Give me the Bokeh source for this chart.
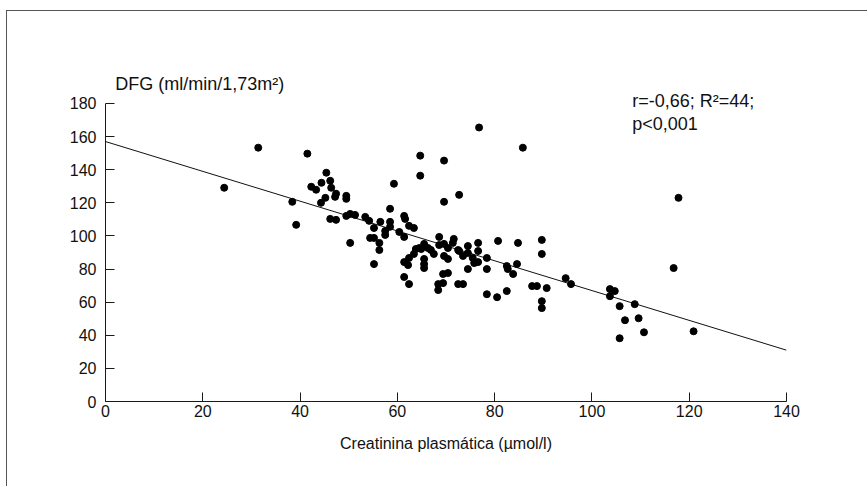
from bokeh.plotting import figure
from bokeh.models import Range1d, Label, FixedTicker
from bokeh.embed import file_html
from bokeh.resources import INLINE

# Data: plasma creatinine (µmol/l) vs GFR (ml/min/1.73m2)
creatinina = [
    24.4, 31.4, 41.5, 38.4, 39.2, 45.4, 42.3, 43.3, 44.4, 46.2, 46.4, 47.4, 47.2,
    44.3, 45.2, 46.2, 47.4, 49.5, 49.5, 49.5, 50.3, 51.3, 50.3,
    53.4, 54.2, 55.2, 56.5, 58.5, 58.5, 57.5, 57.5, 54.4, 55.2, 56.3, 56.3, 55.2,
    61.4, 61.6, 62.4, 63.4, 60.4, 61.4, 58.5, 59.3, 64.7, 64.7, 69.6, 69.6, 72.7,
    76.8, 85.8, 68.6, 71.6, 68.6, 69.6, 70.4, 71.4, 72.5, 74.5, 74.5, 76.6, 76.6,
    80.7, 84.8, 89.7, 89.7, 65.5, 64.5, 63.8, 64.9, 66.3, 66.9, 67.5, 63.4, 62.4,
    61.4, 62.2, 65.5, 65.5, 65.5, 69.6, 70.4, 72.7, 73.5, 75.5, 75.8, 76.6, 74.5,
    78.4, 78.4, 82.5, 82.7, 83.8, 84.6, 61.4, 62.4, 68.4, 68.4, 69.4, 70.4, 69.4,
    72.5, 73.5, 78.4, 80.5, 82.5, 87.7, 88.7, 90.7, 89.7, 89.7, 94.6, 95.7,
    103.7, 104.7, 103.7, 108.8, 105.7, 109.6, 106.8, 110.7, 105.7, 120.9, 117.8, 116.8,
]
dfg = [
    129.1, 153.3, 149.7, 120.6, 106.7, 138.2, 129.7, 127.9, 132.1, 133.3, 129.1, 125.5, 123.6,
    120.0, 123.0, 110.3, 109.7, 124.2, 122.4, 112.1, 113.3, 112.7, 95.8,
    111.5, 109.1, 104.8, 108.5, 108.5, 105.5, 103.0, 100.6, 98.8, 98.8, 95.8, 91.5, 83.0,
    112.1, 110.3, 106.1, 104.8, 102.4, 99.4, 116.4, 131.5, 148.5, 136.4, 145.5, 120.6, 124.8,
    165.5, 153.3, 99.4, 98.2, 94.5, 95.2, 92.7, 95.8, 91.5, 93.9, 89.7, 95.8, 90.9,
    97.0, 95.8, 97.6, 89.1, 95.2, 92.7, 92.1, 92.1, 92.7, 91.5, 89.1, 89.1, 86.7,
    84.2, 82.4, 86.1, 83.0, 80.6, 87.9, 86.1, 90.9, 87.9, 86.7, 83.6, 84.2, 80.0,
    86.7, 80.0, 81.8, 80.0, 77.0, 83.0, 75.2, 70.9, 70.9, 67.3, 71.5, 77.6, 77.0,
    70.9, 70.9, 64.8, 63.0, 66.7, 69.7, 69.7, 68.5, 60.6, 56.4, 74.5, 70.9,
    67.9, 66.7, 63.6, 58.8, 57.6, 50.3, 49.1, 41.8, 38.2, 42.4, 123.0, 80.6,
]

# Regression line
intercepto = 157.0
pendiente = -0.90
linea_x = [0, 140]

x_ticks = [0, 20, 40, 60, 80, 100, 120, 140]
y_ticks = [0, 20, 40, 60, 80, 100, 120, 140, 160, 180]

titulo_y = "DFG (ml/min/1,73m²)"
titulo_x = "Creatinina plasmática (µmol/l)"
estadistica_1 = "r=-0,66; R²=44;"
estadistica_2 = "p<0,001"

W, H = 861, 476
p = figure(width=W, height=H, output_backend="svg", toolbar_location=None,
           x_range=Range1d(0, 140), y_range=Range1d(0, 180 + 92 / 1.656),
           min_border_left=98, min_border_right=82, min_border_top=0,
           min_border_bottom=86, margin=(10, 0, 0, 6),
           styles={"border-top": "1px solid #555555", "border-left": "1px solid #555555"})
p.outline_line_color = None
p.grid.visible = False
p.background_fill_color = "white"
p.border_fill_color = "white"

for ax in (p.xaxis[0], p.yaxis[0]):
    ax.axis_line_color = "#1a1a1a"
    ax.axis_line_width = 1
    ax.major_tick_line_color = "#1a1a1a"
    ax.major_tick_in = 9
    ax.major_tick_out = 0
    ax.minor_tick_line_color = None
    ax.major_label_text_font = "Liberation Sans"
    ax.major_label_text_font_size = "16px"
    ax.major_label_text_color = "#111111"

p.xaxis[0].ticker = FixedTicker(ticks=x_ticks)
p.yaxis[0].ticker = FixedTicker(ticks=y_ticks)
p.xaxis[0].bounds = (0, 140)
p.yaxis[0].bounds = (0, 180)
p.xaxis[0].major_label_standoff = 3
p.yaxis[0].major_label_standoff = 9
p.xaxis[0].axis_label = titulo_x
p.xaxis[0].axis_label_text_font = "Liberation Sans"
p.xaxis[0].axis_label_text_font_size = "16px"
p.xaxis[0].axis_label_text_font_style = "normal"
p.xaxis[0].axis_label_text_color = "#111111"
p.xaxis[0].axis_label_standoff = 15

p.line(linea_x, [intercepto + pendiente * v for v in linea_x], line_color="#111111", line_width=1)
p.scatter(creatinina, dfg, size=7, fill_color="black", line_color="black", marker="circle")

p.add_layout(Label(x=2.0, y=191.7, text=titulo_y, text_font="Liberation Sans",
                   text_font_size="18px", text_baseline="middle", text_color="#111111"))
p.add_layout(Label(x=108.3, y=181.8, text=estadistica_1, text_font="Liberation Sans",
                   text_font_size="18px", text_baseline="middle", text_color="#111111"))
p.add_layout(Label(x=108.3, y=167.7, text=estadistica_2, text_font="Liberation Sans",
                   text_font_size="18px", text_baseline="middle", text_color="#111111"))

open("out.html", "w").write(file_html(p, INLINE))
